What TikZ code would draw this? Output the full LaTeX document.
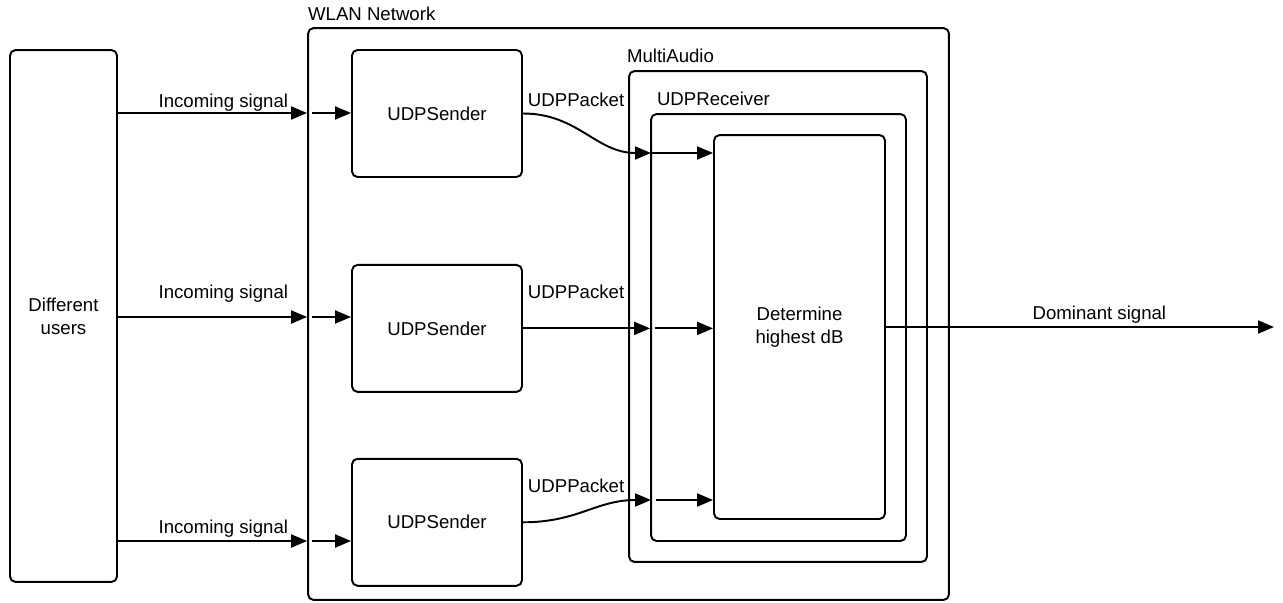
\documentclass[tikz,border=0pt]{standalone}
\usepackage{fontspec}
\setmainfont{Liberation Sans}
\usetikzlibrary{positioning,arrows.meta}

\begin{document}
\begin{tikzpicture}[x=0.02cm, y=-0.02cm, line width=1.1pt,
        every node/.style={font=\fontsize{10.6}{13}\selectfont},
        block/.style={draw, rounded corners=0.11cm, align=center, inner sep=0pt},
        frame/.style={draw, rounded corners=0.11cm, inner sep=0pt},
        lbl/.style={inner sep=0pt},
        arr/.style={-{Triangle[length=0.32cm, width=0.26cm]}}]
        \useasboundingbox (0,0) rectangle (1283,602);

        \node[block, minimum width=2.14cm, minimum height=10.64cm] (users) at (63.5,316) {Different\\users};
        \node[frame, minimum width=12.82cm, minimum height=11.44cm] (wlan) at (628.5,314) {};
        \node[lbl, anchor=base west, yshift=0.14cm] (wlanlbl) at (wlan.north west) {WLAN Network};

        \node[block, minimum width=3.4cm, minimum height=2.54cm] (s1) at (437,113.5) {UDPSender};
        \node[block, minimum width=3.4cm, minimum height=2.54cm, below=1.72cm of s1] (s2) {UDPSender};
        \node[block, minimum width=3.4cm, minimum height=2.54cm, below=1.3cm of s2] (s3) {UDPSender};

        \node[frame, minimum width=5.96cm, minimum height=9.82cm] (ma) at (778,316.5) {};
        \node[lbl, anchor=base west, yshift=0.16cm, xshift=-0.04cm] (malbl) at (ma.north west) {MultiAudio};
        \node[frame, minimum width=5.1cm, minimum height=8.54cm] (rx) at (778.5,327.5) {};
        \node[lbl, anchor=base west, yshift=0.15cm, xshift=0.12cm] (rxlbl) at (rx.north west) {UDPReceiver};
        \node[block, minimum width=3.42cm, minimum height=7.68cm] (det) at (799.5,327) {Determine\\highest dB};

        % rows and entry points
        \coordinate (row1) at (0,113);
        \coordinate (row2) at (0,317);
        \coordinate (row3) at (0,541);
        \coordinate (e1) at (651,153);
        \coordinate (e2) at (rx.west |- s2.east);
        \coordinate (e3) at (651,500);
        \coordinate (out) at (1274,327);

        \node[lbl, anchor=base east] (in1) at (289,107) {Incoming signal};
        \node[lbl, anchor=base east] (in2) at (289,298) {Incoming signal};
        \node[lbl, anchor=base east] (in3) at (289,533) {Incoming signal};
        \node[lbl, anchor=base west] (p1) at (527,106) {UDPPacket};
        \node[lbl, anchor=base west] (p2) at (527,298) {UDPPacket};
        \node[lbl, anchor=base west] (p3) at (527,492) {UDPPacket};

        \draw[arr] (users.east |- row1) -- (wlan.west |- row1);
        \draw[arr, shorten <=0.1cm] (wlan.west |- row1) -- (s1.west |- row1);
        \draw[arr] (users.east |- row2) -- (wlan.west |- row2);
        \draw[arr, shorten <=0.1cm] (wlan.west |- row2) -- (s2.west |- row2);
        \draw[arr] (users.east |- row3) -- (wlan.west |- row3);
        \draw[arr, shorten <=0.1cm] (wlan.west |- row3) -- (s3.west |- row3);

        \draw[arr] (s1.east) .. controls +(55,0) and +(-55,0) .. (e1);
        \draw[arr] (s2.east) -- (e2);
        \draw[arr] (s3.east) .. controls +(55,0) and +(-55,0) .. (e3);
        \draw[arr] (e1) -- (det.west |- e1);
        \draw[arr, shorten <=0.1cm] (e2) -- (det.west |- e2);
        \draw[arr, shorten <=0.1cm] (e3) -- (det.west |- e3);

        \draw[arr] (det.east |- out) -- node[lbl, pos=0.55, anchor=base, yshift=0.16cm] {Dominant signal} (out);
    \end{tikzpicture}
\end{document}
